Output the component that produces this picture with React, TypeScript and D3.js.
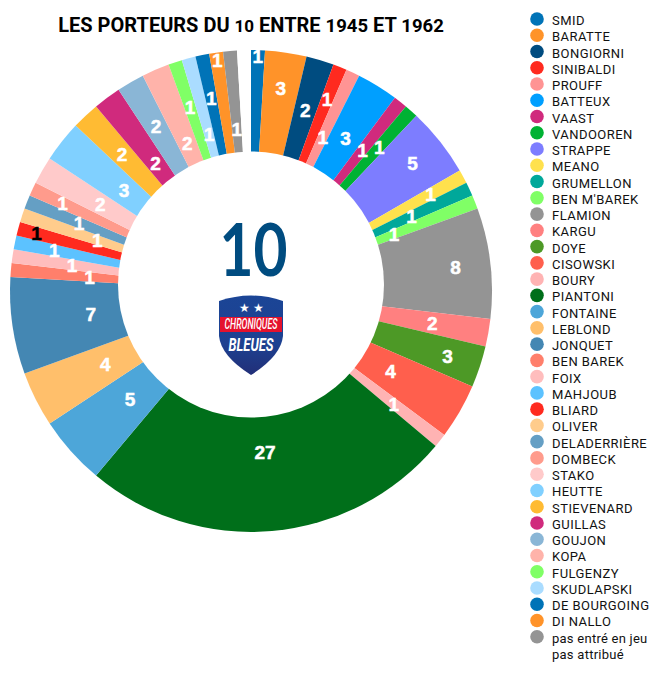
import React from 'react';
import * as d3 from 'd3';

const names = ['SMID', 'BARATTE', 'BONGIORNI', 'SINIBALDI', 'PROUFF', 'BATTEUX', 'VAAST', 'VANDOOREN', 'STRAPPE', 'MEANO', 'GRUMELLON', "BEN M'BAREK", 'FLAMION', 'KARGU', 'DOYE', 'CISOWSKI', 'BOURY', 'PIANTONI', 'FONTAINE', 'LEBLOND', 'JONQUET', 'BEN BAREK', 'FOIX', 'MAHJOUB', 'BLIARD', 'OLIVER', 'DELADERRIÈRE', 'DOMBECK', 'STAKO', 'HEUTTE', 'STIEVENARD', 'GUILLAS', 'GOUJON', 'KOPA', 'FULGENZY', 'SKUDLAPSKI', 'DE BOURGOING', 'DI NALLO', 'pas entré en jeu', 'pas attribué'];
const matches = [1, 3, 2, 1, 1, 3, 1, 1, 5, 1, 1, 1, 8, 2, 3, 4, 1, 27, 5, 4, 7, 1, 1, 1, 1, 1, 1, 1, 2, 3, 2, 2, 2, 2, 1, 1, 1, 1, 1, 1];
const colors = ['#0073b7', '#ff9329', '#004c80', '#ff2a1f', '#ff9494', '#009fff', '#d02a7d', '#00b233', '#7d7dff', '#ffe14d', '#00a89a', '#80ff66', '#949494', '#ff8080', '#4d9926', '#ff5f4d', '#ffb3b3', '#006f1a', '#4da6d9', '#ffbf6b', '#4487b3', '#ff7f6b', '#ffbdbd', '#5cc2ff', '#ff2a1f', '#ffcc8c', '#659fc4', '#ff9b8c', '#ffcaca', '#80d0ff', '#ffbb33', '#d02a7d', '#8ab6d6', '#ffb3aa', '#80ff66', '#aadcff', '#0073b7', '#ff9329', '#949494', '#ffffff'];
// distance of each count label from the centre
const labelRadius = [235, 205, 189, 206, 170, 180, 180, 193, 206, 204, 177, 154, 206, 184, 207, 161, 182, 162, 162, 163, 162, 162, 181, 201, 222, 162, 185, 208, 174, 162, 188, 160, 190, 161, 194, 162, 197, 233, 162, 0];

const width = 670, height = 680;
const cx = 251, cy = 291;
const outer = 241;

const App: React.FC = () => {
    const pie = d3.pie<number>().sort(null).value(d => d);
    const arcs = pie(matches);
    const arc = d3.arc<d3.PieArcDatum<number>>().innerRadius(0).outerRadius(outer);
    const legendY = d3.scaleLinear().domain([0, names.length - 1]).range([20, 654]);
    const font = 'Roboto, sans-serif';

    return (
        <svg width={width} height={height} style={{ position: 'absolute', left: 0, top: 0 }}>
            <defs>
                <linearGradient id="shield" x1="0" y1="0" x2="0" y2="1">
                    <stop offset="0" stopColor="#1b4596" />
                    <stop offset="0.6" stopColor="#1d4191" />
                    <stop offset="1" stopColor="#222f78" />
                </linearGradient>
            </defs>
            <text x={251} y={32} textAnchor="middle" fontFamily={font} fontWeight={700} fontSize={20}>
                LES PORTEURS DU <tspan fontSize={17}>10</tspan> ENTRE <tspan fontSize={18.5}>1945</tspan> ET <tspan fontSize={18.5}>1962</tspan>
            </text>
            <g transform={`translate(${cx},${cy})`}>
                {arcs.map((d, i) => <path key={i} d={arc(d) as string} fill={colors[i]} />)}
            </g>
            {/* the hole is a white disc, a little above the centre of the pie */}
            <circle cx={251} cy={284.5} r={133} fill="#fff" />
            <g transform={`translate(${cx},${cy})`}>
                {arcs.map((d, i) => {
                    if (i === arcs.length - 1) return null;
                    const a = (d.startAngle + d.endAngle) / 2;
                    const r = labelRadius[i];
                    const c = names[i] === 'BLIARD' ? '#000' : '#fff';
                    return (
                        <text key={i} x={r * Math.sin(a)} y={-r * Math.cos(a)} dy="0.36em" textAnchor="middle"
                            fontFamily="'Liberation Sans', sans-serif" fontWeight={700} fontSize={19}
                            fill={c} stroke={c} strokeWidth={0.5}>{d.data}</text>
                    );
                })}
            </g>
            <text x={253.5} y={276} textAnchor="middle" fontFamily="Lato, sans-serif" fontWeight={700} fontSize={72} fill="#004c80"
                textLength={68} lengthAdjust="spacingAndGlyphs">10</text>
            <g transform="translate(251,296)">
                <path d="M-32,5 Q0,-6 32,5 L32,40 Q30,60 0,79 Q-30,60 -32,40 Z" fill="url(#shield)" />
                <rect x={-31} y={21} width={62} height={15} fill="#e4122d" />
                <text x={-7} y={16} textAnchor="middle" fontSize={12} fill="#fff">★</text>
                <text x={7} y={16} textAnchor="middle" fontSize={12} fill="#fff">★</text>
                <text x={0} y={33} textAnchor="middle" fontFamily={font} fontStyle="italic" fontWeight={500} fontSize={14} fill="#fff" textLength={53} lengthAdjust="spacingAndGlyphs">CHRONIQUES</text>
                <text x={0} y={55} textAnchor="middle" fontFamily={font} fontStyle="italic" fontWeight={700} fontSize={19} fill="#fff" textLength={45} lengthAdjust="spacingAndGlyphs">BLEUES</text>
            </g>
            {names.map((n, i) => (
                <g key={n} transform={`translate(0,${legendY(i)})`}>
                    <circle cx={537} cy={-1} r={6.8} fill={colors[i]} />
                    <text x={552} y={5} fontFamily={font} fontSize={13} letterSpacing={i < 38 ? 0.45 : 0.25} fill="#111">{n}</text>
                </g>
            ))}
        </svg>
    );
};

export default App;
